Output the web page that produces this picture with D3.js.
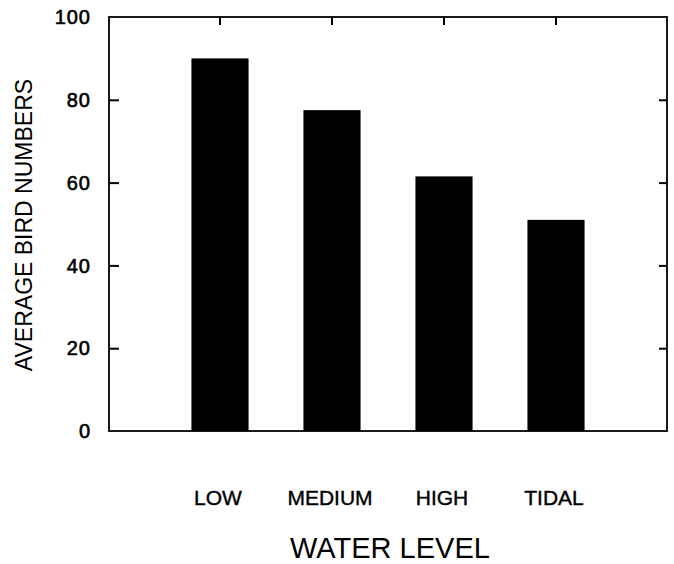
<!DOCTYPE html>
<html>
<head>
<meta charset="utf-8">
<script src="https://cdn.jsdelivr.net/npm/d3@7"></script>
<style>
	body { margin: 0; background: #fff; }
	text { font-family: "Liberation Sans", Arial, sans-serif; fill: #000; }
</style>
</head>
<body>
<svg id="chart" width="674" height="564"></svg>
<script>
// water levels and mean bird counts
var categories = ["LOW", "MEDIUM", "HIGH", "TIDAL"];
var birdNumbers = [90, 77.5, 61.5, 51];
var yTicks = [0, 20, 40, 60, 80, 100];

var svg = d3.select("#chart");
var plotLeft = 109, plotRight = 667, plotTop = 17, plotBottom = 431;

var x = d3.scaleBand()
	.domain(categories)
	.range([plotLeft, plotRight])
	.paddingInner(0.49)
	.paddingOuter(0.736);
var y = d3.scaleLinear().domain([0, 100]).range([plotBottom, plotTop]);

// bars
svg.append("g").selectAll("rect")
	.data(categories)
	.enter().append("rect")
	.attr("x", function (d) { return x(d); })
	.attr("width", x.bandwidth())
	.attr("y", function (d, i) { return y(birdNumbers[i]); })
	.attr("height", function (d, i) { return y(0) - y(birdNumbers[i]); })
	.style("fill", "#000");

// inner ticks: left, right and top (at category centres)
var inner = yTicks.filter(function (t) { return t > 0 && t < 100; });
var leftAxis = d3.axisRight(y).tickValues(inner).tickSize(10).tickFormat("");
svg.append("g").attr("transform", "translate(" + plotLeft + ",0)").call(leftAxis);
var rightAxis = d3.axisLeft(y).tickValues(inner).tickSize(8).tickFormat("");
svg.append("g").attr("transform", "translate(" + plotRight + ",0)").call(rightAxis);
var topAxis = d3.axisBottom(x).tickSize(8).tickFormat("");
svg.append("g").attr("transform", "translate(0," + plotTop + ")").call(topAxis);
svg.selectAll(".domain").remove();
svg.selectAll(".tick line").attr("stroke", "#000").attr("stroke-width", 2);

// frame
svg.append("rect")
	.attr("x", plotLeft).attr("y", plotTop)
	.attr("width", plotRight - plotLeft).attr("height", plotBottom - plotTop)
	.style("fill", "none").style("stroke", "#000").style("stroke-width", 1.8);

// y tick labels (scanned print looks heavy, so a thin stroke)
svg.append("g").selectAll("text")
	.data(yTicks)
	.enter().append("text")
	.attr("x", 91)
	.attr("y", function (d) { return y(d); })
	.attr("dy", "0.36em")
	.attr("text-anchor", "end")
	.style("font-size", "20px")
	.style("letter-spacing", "1px")
	.style("stroke", "#000").style("stroke-width", 0.6)
	.text(function (d) { return d; });

// x category labels
svg.append("g").selectAll("text")
	.data(categories)
	.enter().append("text")
	.attr("x", function (d) { return x(d) + x.bandwidth() / 2 - 2; })
	.attr("y", 505)
	.attr("text-anchor", "middle")
	.style("font-size", "21px")
	.style("stroke", "#000").style("stroke-width", 0.4)
	.text(function (d) { return d; });

// axis titles
svg.append("text")
	.attr("transform", "translate(32," + ((plotTop + plotBottom) / 2 + 1) + ") rotate(-90)")
	.attr("text-anchor", "middle")
	.style("font-size", "23px")
	.text("AVERAGE BIRD NUMBERS");
svg.append("text")
	.attr("x", 390)
	.attr("y", 558)
	.attr("text-anchor", "middle")
	.style("font-size", "29px")
	.text("WATER LEVEL");
</script>
</body>
</html>
